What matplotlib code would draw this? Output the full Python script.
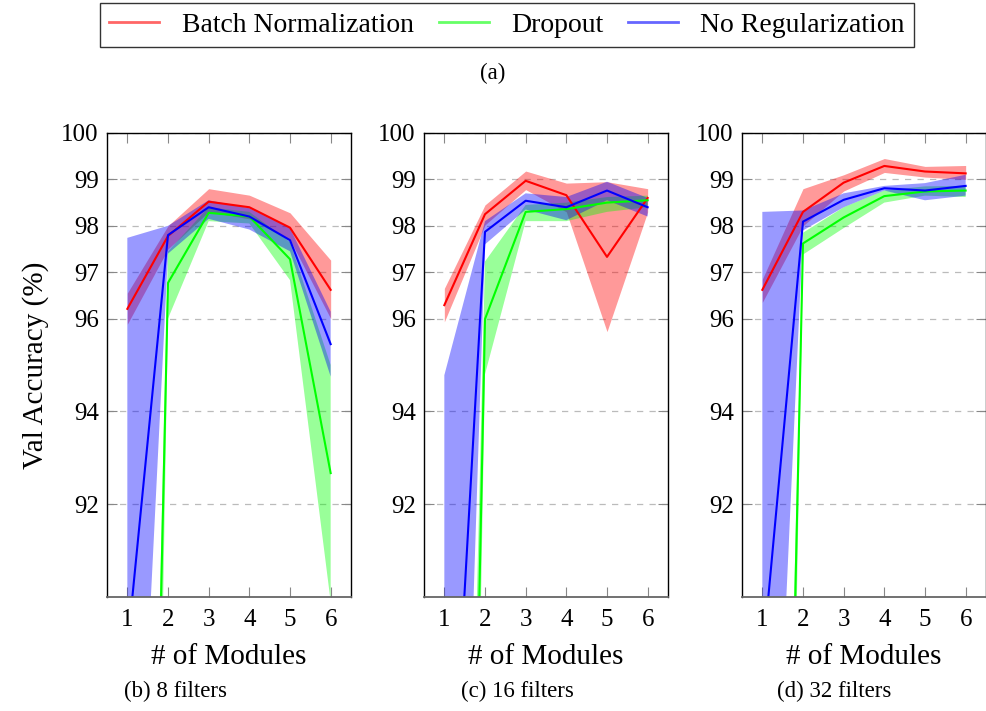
import numpy as np
import matplotlib
matplotlib.use("Agg")
import matplotlib.pyplot as plt
from matplotlib.lines import Line2D

plt.rcParams['font.family'] = ['Liberation Serif', 'DejaVu Serif']

# Number of modules on the x axis
modules = [1, 2, 3, 4, 5, 6]

# 8 filters
bn_8 = [96.21, 97.78, 98.52, 98.40, 97.96, 96.62]
bn_8_hi = [96.55, 98.00, 98.80, 98.66, 98.28, 97.26]
bn_8_lo = [95.88, 97.50, 98.30, 98.15, 97.70, 96.00]
do_8 = [57.0, 96.77, 98.28, 98.20, 97.28, 92.67]
do_8_hi = [60.0, 97.45, 98.40, 98.30, 97.65, 95.00]
do_8_lo = [45.0, 96.00, 98.10, 98.05, 96.83, 89.90]
nr_8 = [88.9, 97.80, 98.40, 98.20, 97.69, 95.45]
nr_8_hi = [97.74, 98.00, 98.55, 98.38, 97.95, 96.15]
nr_8_lo = [79.8, 97.40, 98.15, 97.92, 97.45, 94.75]

# 16 filters
bn_16 = [96.29, 98.25, 98.97, 98.66, 97.33, 98.60]
bn_16_hi = [96.65, 98.45, 99.18, 98.92, 98.95, 98.80]
bn_16_lo = [95.93, 98.02, 98.78, 98.30, 95.72, 98.30]
do_16 = [53.0, 95.99, 98.30, 98.36, 98.50, 98.55]
do_16_hi = [61.0, 97.23, 98.45, 98.50, 98.62, 98.65]
do_16_lo = [45.0, 94.80, 98.10, 98.10, 98.30, 98.40]
nr_16 = [82.4, 97.87, 98.54, 98.40, 98.76, 98.40]
nr_16_hi = [94.78, 98.10, 98.70, 98.62, 98.95, 98.60]
nr_16_lo = [70.5, 97.60, 98.35, 98.12, 98.55, 98.20]

# 32 filters
bn_32 = [96.62, 98.30, 98.93, 99.29, 99.17, 99.13]
bn_32_hi = [96.85, 98.80, 99.10, 99.45, 99.28, 99.30]
bn_32_lo = [96.35, 98.00, 98.75, 99.15, 99.05, 99.00]
do_32 = [57.5, 97.62, 98.18, 98.64, 98.74, 98.76]
do_32_hi = [62.0, 97.85, 98.40, 98.76, 98.85, 98.86]
do_32_lo = [48.0, 97.38, 97.95, 98.50, 98.65, 98.62]
nr_32 = [88.6, 98.09, 98.56, 98.81, 98.76, 98.86]
nr_32_hi = [98.30, 98.33, 98.70, 98.86, 98.92, 99.10]
nr_32_lo = [78.6, 97.90, 98.40, 98.76, 98.55, 98.65]

series_names = ['Batch Normalization', 'Dropout', 'No Regularization']
series_colors = ['#ff0000', '#00ff00', '#0000ff']
yticks = [92, 94, 96, 97, 98, 99, 100]
captions = ['(b) 8 filters', '(c) 16 filters', '(d) 32 filters']

panels = [
    [(bn_8, bn_8_lo, bn_8_hi), (do_8, do_8_lo, do_8_hi), (nr_8, nr_8_lo, nr_8_hi)],
    [(bn_16, bn_16_lo, bn_16_hi), (do_16, do_16_lo, do_16_hi), (nr_16, nr_16_lo, nr_16_hi)],
    [(bn_32, bn_32_lo, bn_32_hi), (do_32, do_32_lo, do_32_hi), (nr_32, nr_32_lo, nr_32_hi)],
]

W, H = 986, 711
fig = plt.figure(figsize=(W / 100, H / 100), dpi=100)

# axes boxes in pixels (left, top, right, bottom)
ax_left = [107, 424, 742]
ax_w = 244
ax_top, ax_bot = 133, 597

for p, data in enumerate(panels):
    ax = fig.add_axes([ax_left[p] / W, (H - ax_bot) / H, ax_w / W, (ax_bot - ax_top) / H])
    for (mean, lo, hi), col in zip(data, series_colors):
        ax.fill_between(modules, lo, hi, color=col, alpha=0.4, lw=0)
        ax.plot(modules, mean, color=col, lw=1.5)

    ax.set_xlim(0.5, 6.5)
    ax.set_ylim(90, 100)
    ax.set_xticks(modules)
    ax.set_yticks(yticks)
    ax.yaxis.grid(True, linestyle=(0, (5, 5)), color='#bbbbbb', lw=0.9)
    ax.set_axisbelow(True)
    ax.tick_params(axis='x', direction='in', top=True, bottom=True, length=7,
                   color='#888888', labelsize=18, pad=9)
    ax.tick_params(axis='y', direction='in', left=True, right=True, length=7,
                   color='#888888', labelsize=18, pad=6)
    for s in ['top', 'left', 'right']:
        ax.spines[s].set_color('black')
        ax.spines[s].set_linewidth(1.0)
    ax.spines['bottom'].set_color('#666666')
    ax.spines['bottom'].set_linewidth(1.3)
    ax.set_xlabel('# of Modules', fontsize=21, labelpad=9)
    if p == 0:
        ax.set_ylabel('Val Accuracy (%)', fontsize=21, labelpad=9)

# sub captions
cap_x = [175, 517, 834]
for cx, txt in zip(cap_x, captions):
    fig.text(cx / W, 1 - 691 / H, txt, ha='center', va='center', fontsize=16.5)

# shared legend on top
handles = [Line2D([], [], color=c, alpha=0.6, lw=2) for c in series_colors]
leg = fig.legend(handles, series_names, loc='center', bbox_to_anchor=(507 / W, 1 - 25 / H),
                 ncol=3, fontsize=20, frameon=True, fancybox=False, edgecolor='black',
                 handlelength=1.8, handletextpad=0.8, columnspacing=0.9,
                 borderpad=0.35)
leg.get_frame().set_linewidth(1.0)
fig.text(493 / W, 1 - 73 / H, '(a)', ha='center', va='center', fontsize=16.5)

fig.savefig('out.png', dpi=100)
